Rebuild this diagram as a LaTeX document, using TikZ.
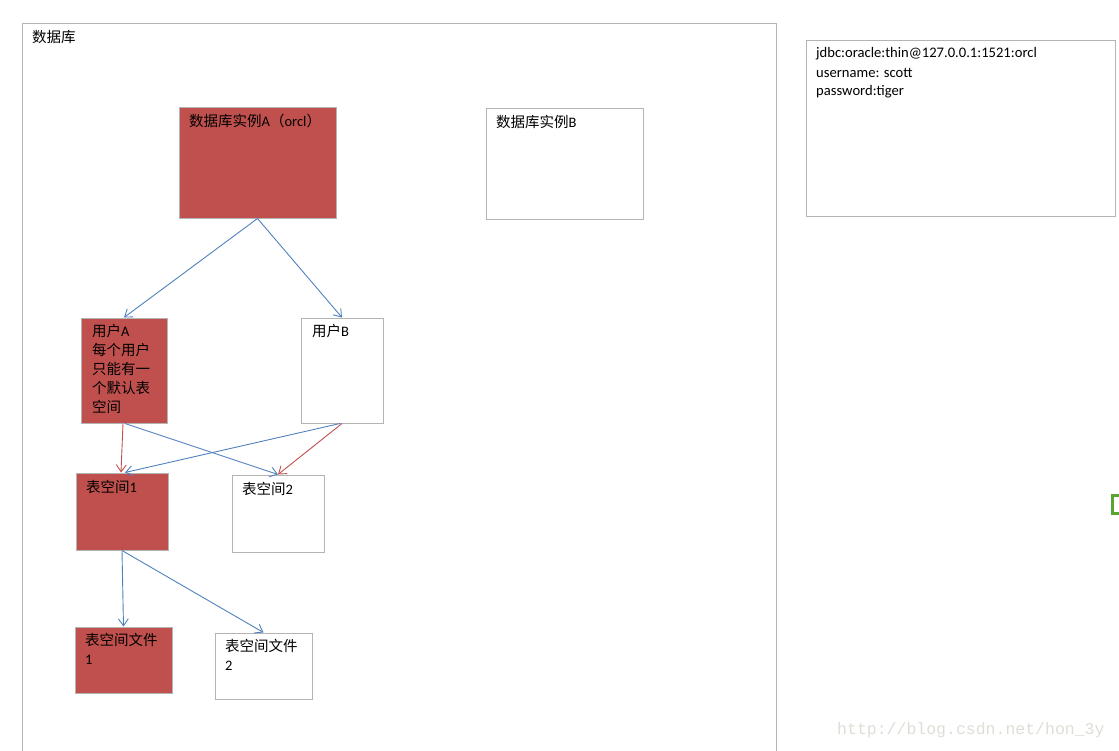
\documentclass[tikz,border=0pt]{standalone}
\usepackage{fontspec}
\setmainfont{Carlito}
\newfontfamily\cjk{Noto Sans CJK SC}
\newfontfamily\wmfont{Liberation Mono}
\usetikzlibrary{arrows.meta}
\definecolor{boxgray}{RGB}{180,180,180}
\definecolor{redfill}{RGB}{192,80,77}
\definecolor{bluearr}{RGB}{79,129,189}
\definecolor{redarr}{RGB}{192,80,77}
\definecolor{wmgray}{RGB}{222,222,215}
\definecolor{greenbr}{RGB}{90,165,50}
\begin{document}
\begin{tikzpicture}[x=1pt,y=-1pt,
  box/.style={draw=boxgray,line width=1pt,inner sep=0pt,rectangle},
  redbox/.style={box,fill=redfill},
  whitebox/.style={box,fill=white},
  lbl/.style={anchor=west,inner sep=0pt,font=\fontsize{14.5}{19}\selectfont,text=black},
  info/.style={anchor=west,inner sep=0pt,font=\fontsize{14.6}{19}\selectfont,text=black},
  conn/.style={line width=0.9pt,-{Straight Barb[length=7pt,width=10pt]}},
  bconn/.style={conn,draw=bluearr},
  rconn/.style={conn,draw=redarr}]
\useasboundingbox (0,0) rectangle (1119,750);
% outer frame
\coordinate (fbl) at (22,751);
\coordinate (ftl) at (22,23);
\coordinate (ftr) at (776,23);
\coordinate (fbr) at (776,751);
\draw[boxgray,line width=1pt] (fbl) -- (ftl) -- (ftr) -- (fbr);
\node[lbl] (tdb) at (32,37) {\cjk 数据库};
% boxes
\node[redbox,minimum width=157pt,minimum height=111pt] (A) at (257.5,162.5) {};
\node[whitebox,minimum width=157pt,minimum height=111pt] (B) at (564.5,163.5) {};
\node[whitebox,minimum width=309pt,minimum height=176pt] (info) at (960.5,128) {};
\node[redbox,minimum width=86pt,minimum height=105pt] (ua) at (124,370.5) {};
\node[whitebox,minimum width=82pt,minimum height=105pt] (ub) at (342,370.5) {};
\node[redbox,minimum width=92pt,minimum height=77pt] (ts1) at (122,511.5) {};
\node[whitebox,minimum width=92pt,minimum height=77pt] (ts2) at (278,513.5) {};
\node[redbox,minimum width=97pt,minimum height=66pt] (f1) at (123.5,660) {};
\node[whitebox,minimum width=97pt,minimum height=66pt] (f2) at (263.5,666) {};
% labels
\node[lbl] (tA) at (189,121) {{\cjk 数据库实例}A{\cjk （}orcl{\cjk ）}};
\node[lbl] (tB) at (496,122) {{\cjk 数据库实例}B};
\node[info] (i1) at (816,54) {jdbc:oracle:thin@127.0.0.1:1521:orcl};
\node[info] (i2) at (816,73) {username: scott};
\node[info] (i3) at (816,92) {password:tiger};
\node[lbl] (ua1) at (92,331) {{\cjk 用户}A};
\node[lbl] (ua2) at (92,350) {\cjk 每个用户};
\node[lbl] (ua3) at (92,369) {\cjk 只能有一};
\node[lbl] (ua4) at (92,388) {\cjk 个默认表};
\node[lbl] (ua5) at (92,407) {\cjk 空间};
\node[lbl] (tub) at (312,331) {{\cjk 用户}B};
\node[lbl] (tts1) at (86,487) {{\cjk 表空间}1};
\node[lbl] (tts2) at (242,489) {{\cjk 表空间}2};
\node[lbl] (tf1a) at (85,640) {\cjk 表空间文件};
\node[lbl] (tf1b) at (85,660) {1};
\node[lbl] (tf2a) at (225,646) {\cjk 表空间文件};
\node[lbl] (tf2b) at (225,666) {2};
% connectors
\draw[bconn] (A.south) -- (ua.north);
\draw[bconn] (A.south) -- (ub.north);
\draw[rconn] ([xshift=-1pt]ua.south) -- ([xshift=-1pt]ts1.north);
\draw[bconn] ([xshift=1pt]ua.south) -- (ts2.north);
\draw[bconn] ([xshift=-2pt]ub.south) -- ([xshift=3pt]ts1.north);
\draw[rconn] (ub.south) -- (ts2.north);
\draw[bconn] (ts1.south) -- (f1.north);
\draw[bconn] (ts1.south) -- (f2.north);
% green bracket at right edge
\coordinate (g1) at (1120,495);
\coordinate (g2) at (1112,495);
\coordinate (g3) at (1112,513);
\coordinate (g4) at (1120,513);
\draw[greenbr,line width=3pt] (g1) -- (g2) -- (g3) -- (g4);
% watermark
\node[anchor=west,inner sep=0pt,text=wmgray,font=\wmfont\fontsize{16.5}{18}\selectfont] (wm) at (837,730) {http://blog.csdn.net/hon\_3y};
\end{tikzpicture}
\end{document}
